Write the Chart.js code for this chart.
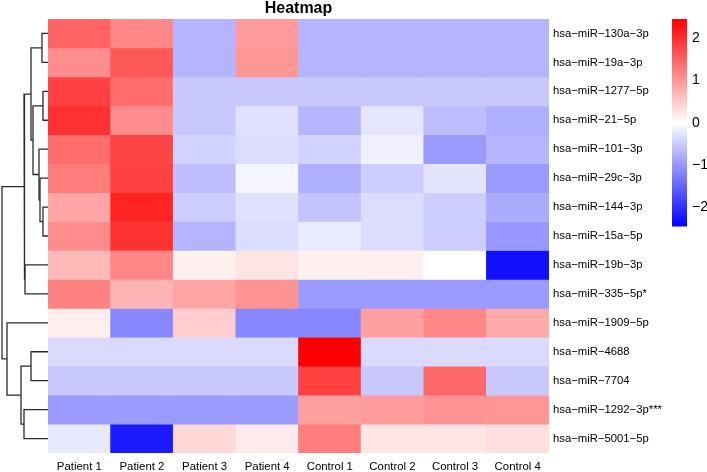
<!DOCTYPE html>
<html>
<head>
<meta charset="utf-8">
<script src="https://cdn.jsdelivr.net/npm/chart.js@4.4.1/dist/chart.umd.min.js"></script>
<style>
  body { margin: 0; background: #fff; }
  #wrap { position: relative; width: 707px; height: 472px; overflow: hidden; }
  canvas { position: absolute; top: 0; }
</style>
</head>
<body>
<div id="wrap">
  <canvas id="tree" width="48" height="472" style="left:0"></canvas>
  <canvas id="heat" width="620" height="472" style="left:48px"></canvas>
  <canvas id="scale" width="35" height="240" style="left:672px"></canvas>
</div>
<script>
// samples (columns) and miRNAs (rows, top to bottom)
const colLabels = ['Patient 1', 'Patient 2', 'Patient 3', 'Patient 4', 'Control 1', 'Control 2', 'Control 3', 'Control 4'];
const rowLabels = [
  'hsa−miR−130a−3p', 'hsa−miR−19a−3p', 'hsa−miR−1277−5p', 'hsa−miR−21−5p', 'hsa−miR−101−3p',
  'hsa−miR−29c−3p', 'hsa−miR−144−3p', 'hsa−miR−15a−5p', 'hsa−miR−19b−3p', 'hsa−miR−335−5p*',
  'hsa−miR−1909−5p', 'hsa−miR−4688', 'hsa−miR−7704', 'hsa−miR−1292−3p***', 'hsa−miR−5001−5p'
];

// scaled expression, one array per sample, in row order
const patient1 = [1.5, 1.1, 1.83, 1.97, 1.4, 1.25, 0.86, 1.1, 0.67, 1.2, 0.16, -0.36, -0.53, -0.96, -0.22];
const patient2 = [1.15, 1.6, 1.4, 1.1, 1.8, 1.83, 2.1, 1.97, 1.15, 0.72, -1.15, -0.36, -0.53, -0.96, -2.2];
const patient3 = [-0.72, -0.72, -0.53, -0.53, -0.43, -0.62, -0.48, -0.72, 0.14, 0.86, 0.48, -0.36, -0.53, -0.96, 0.38];
const patient4 = [0.96, 1.0, -0.53, -0.29, -0.34, -0.1, -0.29, -0.34, 0.26, 1.05, -1.15, -0.36, -0.53, -0.96, 0.19];
const control1 = [-0.72, -0.72, -0.53, -0.72, -0.43, -0.77, -0.58, -0.19, 0.14, -0.96, -1.15, 2.45, 1.83, 0.91, 1.25];
const control2 = [-0.72, -0.72, -0.53, -0.25, -0.14, -0.48, -0.34, -0.34, 0.16, -0.96, 0.91, -0.36, -0.53, 0.96, 0.24];
const control3 = [-0.72, -0.72, -0.53, -0.62, -0.96, -0.26, -0.48, -0.48, 0, -0.96, 1.15, -0.36, 1.44, 1.05, 0.24];
const control4 = [-0.72, -0.72, -0.53, -0.77, -0.72, -0.96, -0.8, -1.0, -2.3, -0.96, 0.82, -0.36, -0.53, 1.0, 0.32];
const samples = [patient1, patient2, patient3, patient4, control1, control2, control3, control4];

// colour key
const colorMin = -2.45;
const colorMax = 2.45;
const colorTicks = [2, 1, 0, -1, -2];

// row clustering, hclust style: negative = leaf (row index + 1), positive = earlier merge
const merges = [
  [-3, -4, 5], [-7, -8, 5], [-1, -2, 6], [-6, 2, 8], [-5, 4, 9], [1, 5, 15], [3, 6, 17],
  [-12, -13, 17], [-9, -10, 23], [7, 9, 24], [-14, -15, 24], [8, 11, 27], [-11, 12, 41], [10, 13, 46]
];

const FONT = "'Liberation Sans', Arial, Helvetica, sans-serif";

function heatColor(v) {
  const t = Math.max(-1, Math.min(1, v / colorMax));
  const c = Math.round(255 * (1 - Math.abs(t)));
  return t >= 0 ? `rgb(255,${c},${c})` : `rgb(${c},${c},255)`;
}

const minus = (v) => (v < 0 ? '−' + Math.abs(v) : String(v));

// heatmap: one floating bar dataset per row
const heatSets = rowLabels.map((name, i) => ({
  label: name,
  data: colLabels.map(() => [i, i + 1]),
  backgroundColor: samples.map((s) => heatColor(s[i])),
  borderWidth: 0,
  barPercentage: 1,
  categoryPercentage: 1,
  grouped: false,
  yAxisID: 'y'
}));

new Chart(document.getElementById('heat'), {
  type: 'bar',
  data: { labels: colLabels, datasets: heatSets },
  options: {
    responsive: false,
    animation: false,
    devicePixelRatio: 1,
    layout: { padding: 0 },
    plugins: {
      legend: { display: false },
      tooltip: { enabled: false },
      title: {
        display: true,
        text: 'Heatmap',
        fullSize: false,
        color: '#000',
        font: { family: FONT, size: 16, weight: 'bold', lineHeight: 1.1 },
        padding: { top: 0, bottom: 1.4 }
      }
    },
    scales: {
      x: {
        grid: { display: false, drawTicks: false },
        border: { display: false },
        ticks: { color: '#000', font: { family: FONT, size: 11.4 }, padding: 7, maxRotation: 0 },
        afterFit: (s) => { s.height = 19; }
      },
      y: { type: 'linear', display: false, reverse: true, min: 0, max: rowLabels.length },
      yLab: {
        type: 'category',
        labels: rowLabels,
        position: 'right',
        offset: true,
        grid: { display: false, drawTicks: false },
        border: { display: false },
        ticks: { color: '#000', font: { family: FONT, size: 11.3 }, padding: 4 },
        afterFit: (s) => { s.width = 119; }
      }
    }
  }
});

// dendrogram built from the merge list
const leafY = (i) => i + 0.5;
const nodes = [];
function nodePos(ref) {
  if (ref < 0) return { y: leafY(-ref - 1), h: 0 };
  return nodes[ref - 1];
}
const treeSets = merges.map(([a, b, h]) => {
  const pa = nodePos(a);
  const pb = nodePos(b);
  nodes.push({ y: (pa.y + pb.y) / 2, h: h });
  return {
    data: [{ x: pa.h, y: pa.y }, { x: h, y: pa.y }, { x: h, y: pb.y }, { x: pb.h, y: pb.y }],
    showLine: true,
    borderColor: '#2b2b2b',
    borderWidth: 1.3,
    pointRadius: 0,
    clip: false
  };
});

new Chart(document.getElementById('tree'), {
  type: 'scatter',
  data: { datasets: treeSets },
  options: {
    responsive: false,
    animation: false,
    devicePixelRatio: 1,
    layout: { padding: { top: 19, bottom: 19, left: 0, right: 0 } },
    plugins: { legend: { display: false }, tooltip: { enabled: false } },
    scales: {
      x: { type: 'linear', display: false, reverse: true, min: 0, max: 48 },
      y: { type: 'linear', display: false, reverse: true, min: 0, max: rowLabels.length }
    }
  }
});

// colour key
new Chart(document.getElementById('scale'), {
  type: 'bar',
  data: {
    labels: [''],
    datasets: [{
      data: [[colorMin, colorMax]],
      barPercentage: 1,
      categoryPercentage: 1,
      borderWidth: 0,
      backgroundColor: (ctx) => {
        const area = ctx.chart.chartArea;
        if (!area) return '#fff';
        const g = ctx.chart.ctx.createLinearGradient(0, area.bottom, 0, area.top);
        g.addColorStop(0, 'rgb(0,0,255)');
        g.addColorStop(0.5, 'rgb(255,255,255)');
        g.addColorStop(1, 'rgb(255,0,0)');
        return g;
      }
    }]
  },
  options: {
    responsive: false,
    animation: false,
    devicePixelRatio: 1,
    layout: { padding: { top: 19, bottom: 10, left: 0, right: 0 } },
    plugins: { legend: { display: false }, tooltip: { enabled: false } },
    scales: {
      x: { display: false },
      y: {
        position: 'right',
        min: colorMin,
        max: colorMax,
        grid: { display: false, drawTicks: false },
        border: { display: false },
        afterBuildTicks: (s) => { s.ticks = colorTicks.map((v) => ({ value: v })); },
        ticks: { color: '#000', font: { family: FONT, size: 14 }, padding: 5, callback: minus },
        afterFit: (s) => { s.width = 20; }
      }
    }
  }
});
</script>
</body>
</html>
